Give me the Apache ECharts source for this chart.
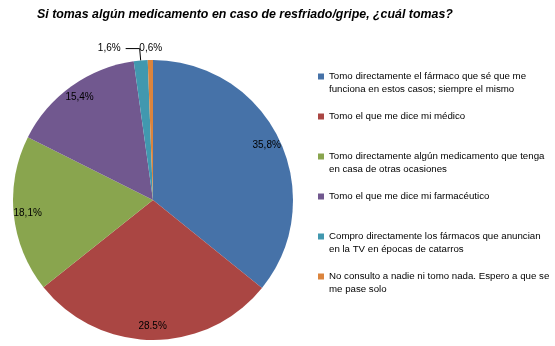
<!DOCTYPE html>
<html>
<head>
<meta charset="utf-8">
<script src="https://cdn.jsdelivr.net/npm/echarts@6/dist/echarts.min.js"></script>
<style>html,body{margin:0;padding:0;background:#fff}#c{width:555px;height:346px}</style>
</head>
<body>
<div id="c"></div>
<script>
const titleText = 'Si tomas algún medicamento en caso de resfriado/gripe, ¿cuál tomas?';
const categories = [
  'Tomo directamente el fármaco que sé que me\nfunciona en estos casos; siempre el mismo',
  'Tomo el que me dice mi médico',
  'Tomo directamente algún medicamento que tenga\nen casa de otras ocasiones',
  'Tomo el que me dice mi farmacéutico',
  'Compro directamente los fármacos que anuncian\nen la TV en épocas de catarros',
  'No consulto a nadie ni tomo nada. Espero a que se\nme pase solo'
];
const values = [35.8, 28.5, 18.1, 15.4, 1.6, 0.6];
const valueLabels = ['35,8%', '28.5%', '18,1%', '15,4%', '1,6%', '0,6%'];
const colors = ['#4672A8', '#AA4643', '#89A54E', '#71588F', '#4198AF', '#DB843D'];

const chart = echarts.init(document.getElementById('c'), null, {renderer: 'canvas'});
const smallIdx = [4, 5];

const mainData = categories.map((n, i) => {
  const d = {name: n, value: values[i], itemStyle: {color: colors[i]}};
  if (i === 4) {
    d.label = {show: true, position: 'outside', formatter: valueLabels[i]};
    d.labelLine = {show: true, length: 12, length2: 14};
  } else if (i === 5) {
    d.label = {show: true, position: 'outside', formatter: valueLabels[i], distanceToLabelLine: -12};
    d.labelLine = {show: false, length: 12, length2: 0};
  } else {
    d.label = {show: false};
  }
  return d;
});
const ringData = categories.map((n, i) => ({
  name: n, value: values[i],
  label: {show: smallIdx.indexOf(i) < 0, formatter: valueLabels[i]}
}));

chart.setOption({
  animation: false,
  title: {
    text: titleText, left: 37, top: 9, padding: 0,
    textStyle: {fontFamily: 'Liberation Sans', fontStyle: 'italic', fontWeight: 'bold', fontSize: 12.4, color: '#000'}
  },
  legend: {
    orient: 'vertical', left: 318, top: 57, padding: 0,
    itemWidth: 6, itemHeight: 6, itemGap: 1, icon: 'rect',
    selectedMode: false,
    textStyle: {fontFamily: 'Liberation Sans', fontSize: 9.7, lineHeight: 13, color: '#000'},
    formatter: n => n.indexOf('\n') >= 0 ? ' \n' + n : ' \n' + n + '\n ',
    data: categories
  },
  series: [
    {
      type: 'pie', center: [153, 200], radius: 140, startAngle: 90, clockwise: true,
      avoidLabelOverlap: false, silent: true,
      label: {fontFamily: 'Liberation Sans', fontSize: 10, color: '#000'},
      labelLine: {lineStyle: {color: '#000', width: 1}},
      data: mainData
    },
    {
      type: 'pie', center: [153, 200], radius: [106, 140], startAngle: 90, clockwise: true,
      avoidLabelOverlap: false, silent: true, legendHoverLink: false,
      itemStyle: {color: 'rgba(0,0,0,0)', borderWidth: 0},
      label: {position: 'inside', fontFamily: 'Liberation Sans', fontSize: 10, color: '#000'},
      labelLine: {show: false},
      data: ringData
    }
  ]
});
</script>
</body>
</html>
